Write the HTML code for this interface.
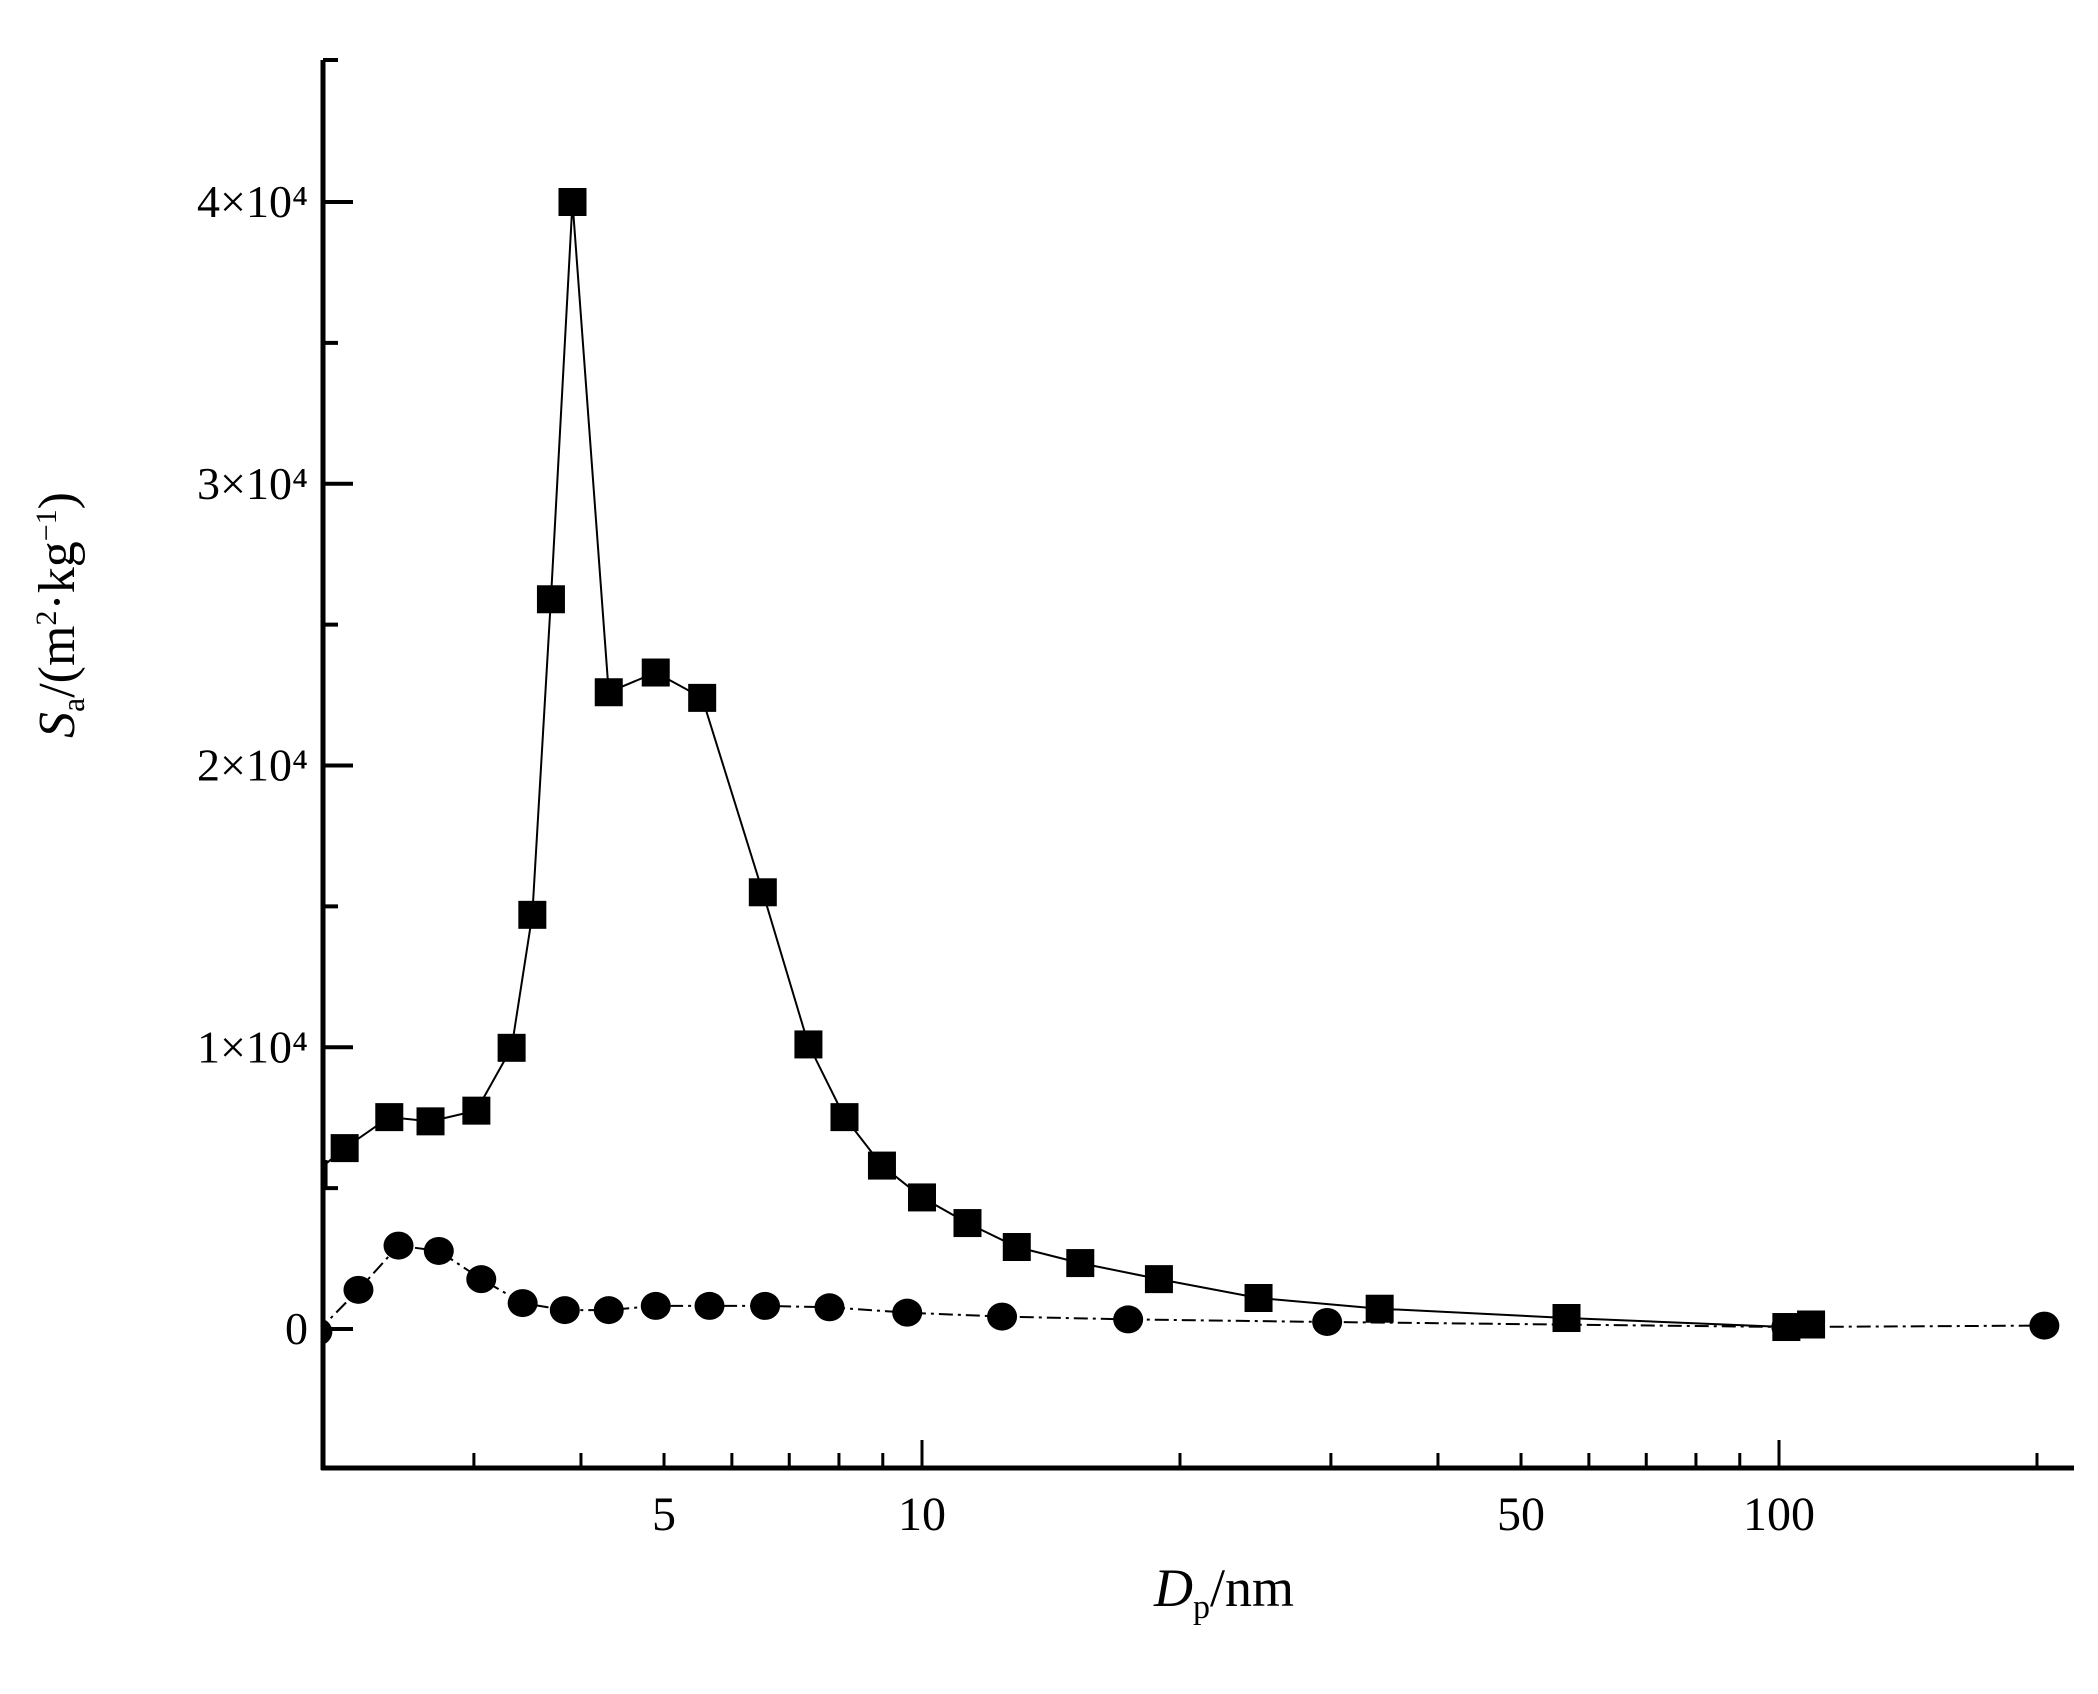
<!DOCTYPE html>
<html><head><meta charset="utf-8"><style>
html,body{margin:0;padding:0;background:#fff;}
svg text{font-family:"Liberation Serif",serif;fill:#000;}
</style></head><body>
<svg id="chart" width="2098" height="1689" viewBox="0 0 2098 1689" xmlns="http://www.w3.org/2000/svg">
<defs><clipPath id="plotclip"><rect x="323" y="55" width="1760" height="1413"/></clipPath></defs>
<g id="axes"></g>
<g id="series" clip-path="url(#plotclip)"></g>
<text x="74" y="615" font-size="52" text-anchor="middle" transform="rotate(-90 74 615)"><tspan font-style="italic">S</tspan><tspan font-size="32" dy="10">a</tspan><tspan dy="-10">/(m</tspan><tspan font-size="30" dy="-18">2</tspan><tspan dy="18">·kg</tspan><tspan font-size="30" dy="-18">−1</tspan><tspan dy="18">)</tspan></text>
<text x="1224" y="1606" font-size="54" text-anchor="middle"><tspan font-style="italic">D</tspan><tspan font-size="34" dy="12">p</tspan><tspan dy="-12">/nm</tspan></text>
</svg>
<script>
const sqX = [1.95,2.12,2.39,2.67,3.02,3.32,3.51,3.69,3.91,4.31,4.89,5.54,6.52,7.37,8.12,8.98,10.0,11.3,12.9,15.3,18.9,24.7,34.2,56.5,102,109];
const sqY = [5.5,6.42,7.52,7.37,7.75,9.98,14.7,25.9,40.0,22.6,23.3,22.4,15.5,10.1,7.52,5.8,4.67,3.76,2.91,2.34,1.77,1.1,0.72,0.39,0.07,0.16];
const ciX = [1.97,2.20,2.45,2.73,3.06,3.42,3.83,4.31,4.89,5.65,6.56,7.80,9.61,12.4,17.4,29.7,102,204];
const ciY = [-0.1,1.39,2.96,2.77,1.77,0.92,0.67,0.67,0.82,0.82,0.82,0.77,0.58,0.44,0.34,0.25,0.07,0.12];
const yTickVals = [0,10,20,30,40];
const yTickLabels = ["0","1×10⁴","2×10⁴","3×10⁴","4×10⁴"];
const yMinorVals = [5,15,25,35];
const xLabelVals = [5,10,50,100];
const xLabelText = ["5","10","50","100"];
const xMajorVals = [10,100];
const xMinorVals = [3,4,5,6,7,8,9,20,30,40,50,60,70,80,90,200];

const NS="http://www.w3.org/2000/svg";
const X0=323,X1=2074,Y0=1468,Y1=60;
function xs(v){return 922+(Math.log10(v)-1)*857;}
function ys(v){return 1329-v*28.175;}
function mk(tag,attrs,parent){const e=document.createElementNS(NS,tag);for(const k in attrs)e.setAttribute(k,attrs[k]);parent.appendChild(e);return e;}
const axes=document.getElementById('axes');
const series=document.getElementById('series');

let l=mk('line',{x1:X0,y1:Y1,x2:X0,y2:Y0+2,stroke:'#000','stroke-width':5},axes);


l=mk('line',{x1:X0-2,y1:Y0,x2:X1,y2:Y0,stroke:'#000','stroke-width':5},axes);


l=mk('line',{x1:X0,y1:Y1,x2:X0+15,y2:Y1,stroke:'#000','stroke-width':4},axes);



yTickVals.forEach((v,i)=>{
  const t=mk('line',{x1:X0,y1:ys(v),x2:X0+30,y2:ys(v),stroke:'#000','stroke-width':4},axes);
  
  
  const tx=mk('text',{x:308,y:ys(v)+15,'font-size':46,'text-anchor':'end'},axes);
  tx.textContent=yTickLabels[i];
  
  
});
yMinorVals.forEach(v=>{
  const t=mk('line',{x1:X0,y1:ys(v),x2:X0+15,y2:ys(v),stroke:'#000','stroke-width':4},axes);
  
  
});
xMajorVals.forEach(v=>{
  const t=mk('line',{x1:xs(v),y1:Y0,x2:xs(v),y2:Y0-28,stroke:'#000','stroke-width':3},axes);
  
  
});
xMinorVals.forEach(v=>{
  const t=mk('line',{x1:xs(v),y1:Y0,x2:xs(v),y2:Y0-15,stroke:'#000','stroke-width':3},axes);
  
  
});
xLabelVals.forEach((v,i)=>{
  const tx=mk('text',{x:xs(v),y:1530,'font-size':48,'text-anchor':'middle'},axes);
  tx.textContent=xLabelText[i];
  
  
});

function pts(xa,ya){return xa.map((x,i)=>xs(x).toFixed(1)+','+ys(ya[i]).toFixed(1)).join(' ');}
const sl=mk('polyline',{points:pts(sqX,sqY),fill:'none',stroke:'#000','stroke-width':2},series);


const cl=mk('polyline',{points:pts(ciX,ciY),fill:'none',stroke:'#000','stroke-width':2,'stroke-dasharray':'14,5,3,5'},series);


sqX.forEach((x,i)=>{
  const r=mk('rect',{x:xs(x)-14,y:ys(sqY[i])-14,width:28,height:28,fill:'#000'},series);
  
  
});
ciX.forEach((x,i)=>{
  const c=mk('ellipse',{cx:xs(x),cy:ys(ciY[i]),rx:15,ry:14,fill:'#000'},series);
  
  
});
</script>
</body></html>
